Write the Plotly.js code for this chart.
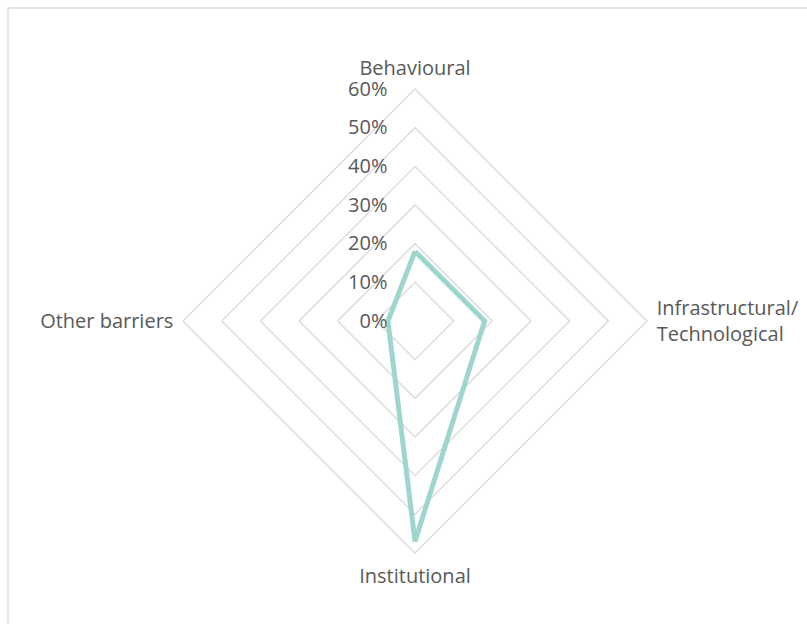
<!DOCTYPE html>
<html>
<head>
<meta charset="utf-8">
<script src="https://cdn.plot.ly/plotly-3.0.1.min.js"></script>
<style>html,body{margin:0;padding:0;background:#fff;}#chart{width:807px;height:624px;}</style>
</head>
<body>
<div id="chart"></div>
<script>
const categories = ["Behavioural", "Infrastructural/<br>Technological", "Institutional", "Other barriers"];
const values = [0.18, 0.18, 0.57, 0.07];
const radialTicks = [0, 0.1, 0.2, 0.3, 0.4, 0.5, 0.6];

const W = 807, H = 624;
const cx = 415, cy = 321, R = 232;

const trace = {
  type: 'scatterpolar',
  r: values.concat([values[0]]),
  theta: categories.concat([categories[0]]),
  mode: 'lines',
  line: {color: 'rgb(158,214,205)', width: 5},
  hoverinfo: 'skip',
  showlegend: false
};

const layout = {
  width: W, height: H,
  margin: {l: 0, r: 0, t: 0, b: 0},
  paper_bgcolor: '#fff',
  font: {family: '"Open Sans", sans-serif', size: 20, color: '#595959'},
  polar: {
    domain: {x: [(cx - R) / W, (cx + R) / W], y: [1 - (cy + R) / H, 1 - (cy - R) / H]},
    gridshape: 'linear',
    bgcolor: 'rgba(0,0,0,0)',
    angularaxis: {
      rotation: 90, direction: 'clockwise',
      showgrid: false, showline: true, linecolor: '#d9d9d9', linewidth: 1.3,
      ticks: 'outside', ticklen: 5, tickcolor: 'rgba(0,0,0,0)',
      tickfont: {size: 20, color: '#595959'}
    },
    radialaxis: {
      range: [0, 0.6], tickvals: radialTicks, tickformat: '.0%',
      angle: 90, tickangle: 90, side: 'counterclockwise',
      showline: false, ticks: 'outside', ticklen: 20, tickcolor: 'rgba(0,0,0,0)',
      gridcolor: '#d9d9d9', gridwidth: 1.3,
      tickfont: {size: 20, color: '#595959'}
    }
  },
  shapes: [{
    type: 'rect', xref: 'paper', yref: 'paper',
    x0: 8 / W, x1: 1.05, y0: -0.05, y1: 1 - 8 / H,
    line: {color: '#d9d9d9', width: 1.3}
  }]
};

Plotly.newPlot('chart', [trace], layout, {displayModeBar: false, staticPlot: true});
</script>
</body>
</html>
